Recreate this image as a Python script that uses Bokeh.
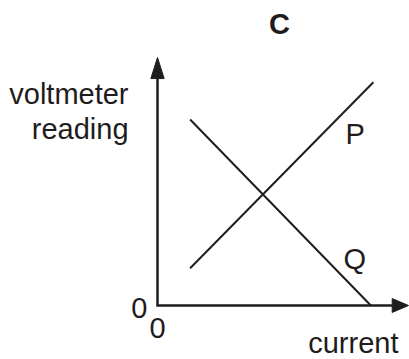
from bokeh.plotting import figure
from bokeh.models import Range1d
from bokeh.core.properties import value
from bokeh.embed import file_html
from bokeh.resources import INLINE

# ---- data (arbitrary units) ----
current_max = 10.0          # end of the current axis
voltage_max = 10.0          # end of the voltmeter-reading axis
p_current = [1.3, 8.6]
p_voltage = [1.5, 9.0]
q_current = [1.3, 8.5]
q_voltage = [7.5, 0.0]
title_text = "C"
y_label_lines = ["voltmeter", "reading"]
x_label = "current"
line_labels = ["P", "Q"]
origin_label = "0"

INK = "#1f1c1d"
FONT = "Liberation Sans"

p = figure(width=409, height=359, output_backend="svg", toolbar_location=None,
           x_range=Range1d(-6.255, 10.04), y_range=Range1d(-2.177, 12.298),
           min_border=0, min_border_left=0, min_border_right=0,
           min_border_top=0, min_border_bottom=0)
p.axis.visible = False
p.grid.visible = False
p.outline_line_color = None
p.background_fill_color = "white"
p.border_fill_color = "white"

# arrow head sizes (data units)
yh_len, yh_half = 0.85, 0.265
xh_len, xh_half = 0.65, 0.28

# axes shafts
p.line([0, 0, current_max - xh_len], [voltage_max - yh_len, 0, 0],
       line_color=INK, line_width=2.5, line_join="miter")
# arrow heads
p.patch([-yh_half, 0, yh_half], [voltage_max - yh_len, voltage_max, voltage_max - yh_len],
        fill_color=INK, line_color=INK, line_width=1)
p.patch([current_max - xh_len, current_max, current_max - xh_len], [xh_half, 0, -xh_half],
        fill_color=INK, line_color=INK, line_width=1)

# P and Q lines
p.line(p_current, p_voltage, line_color=INK, line_width=2)
p.line(q_current, q_voltage, line_color=INK, line_width=2)

def txt(x, y, s, align="left", bold=False):
    p.text(x=[x], y=[y], text=[s], text_font=value(FONT), text_font_size="29px",
           text_align=align, text_baseline="alphabetic", text_color=INK,
           y_offset=-10,
           text_font_style="bold" if bold else "normal")

txt(4.86, 10.93, title_text, align="center", bold=True)
txt(-1.155, 8.105, y_label_lines[0], align="right")
txt(-1.155, 6.73, y_label_lines[1], align="right")
txt(7.49, 6.53, line_labels[0])
txt(7.41, 1.49, line_labels[1])
txt(-0.4, -0.52, origin_label, align="right")
txt(0.0, -1.33, origin_label, align="center")
txt(9.6, -1.935, x_label, align="right")

open("out.html", "w").write(file_html(p, INLINE))
